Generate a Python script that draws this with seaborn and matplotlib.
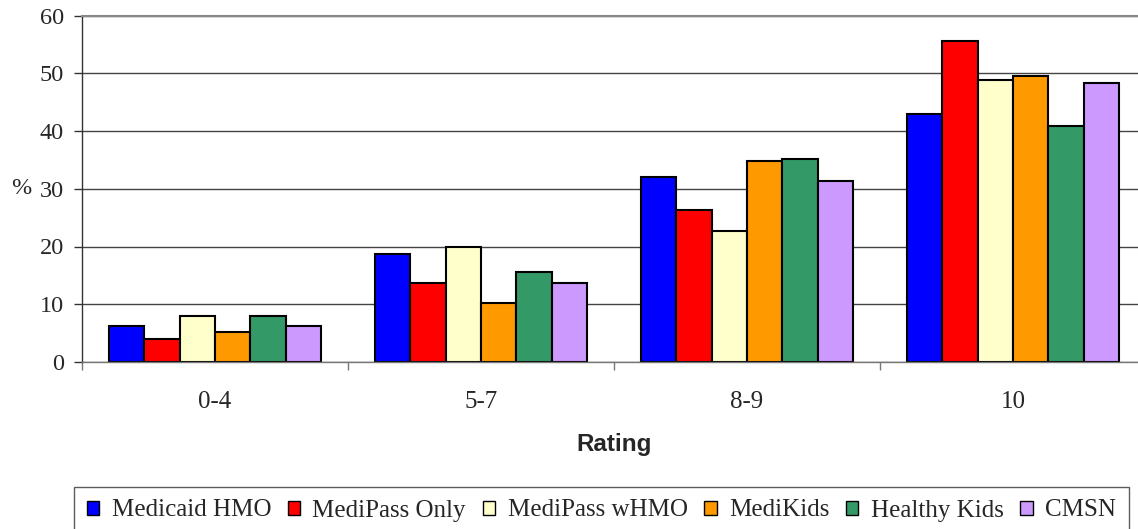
import matplotlib
matplotlib.use("Agg")
import matplotlib.pyplot as plt
import seaborn as sns
import pandas as pd

categories = ["0-4", "5-7", "8-9", "10"]
series = ["Medicaid HMO", "MediPass Only", "MediPass wHMO", "MediKids", "Healthy Kids", "CMSN"]
medicaid_hmo = [6.3, 18.7, 32.1, 42.9]
medipass_only = [3.9, 13.7, 26.4, 55.6]
medipass_whmo = [8.0, 20.0, 22.7, 48.9]
medikids = [5.2, 10.3, 34.8, 49.6]
healthy_kids = [8.0, 15.6, 35.1, 40.9]
cmsn = [6.3, 13.7, 31.4, 48.3]
colors = ["#0000FF", "#FF0000", "#FFFFCC", "#FF9900", "#339966", "#CC99FF"]

values = [medicaid_hmo, medipass_only, medipass_whmo, medikids, healthy_kids, cmsn]
rows = []
for s, vals in zip(series, values):
    for c, v in zip(categories, vals):
        rows.append({"Rating": c, "Plan": s, "Percent": v})
df = pd.DataFrame(rows)

sns.set_style("white")
plt.rcParams["font.family"] = ["Liberation Serif", "DejaVu Serif"]

fig = plt.figure(figsize=(11.38, 5.29), dpi=100)
ax = fig.add_axes([82 / 1138, (529 - 362) / 529, 1064 / 1138, 346.5 / 529])

sns.barplot(data=df, x="Rating", y="Percent", hue="Plan", order=categories,
            hue_order=series, palette=colors, edgecolor="black", linewidth=1.5,
            width=0.8, gap=0, saturation=1, ax=ax, legend=True)

ax.set_xlim(-0.5, 3.5)
ax.set_ylim(0, 60)
ax.set_yticks(range(0, 61, 10))
ax.yaxis.grid(True, color="#444444", linewidth=1.0)
ax.set_axisbelow(True)
ax.spines["right"].set_visible(False)
ax.spines["top"].set_color("#888888")
ax.spines["top"].set_linewidth(1.5)
ax.spines["left"].set_color("#333333")
ax.spines["bottom"].set_color("#777777")
ax.spines["left"].set_linewidth(1.0)
ax.spines["bottom"].set_linewidth(1.0)

ax.tick_params(axis="y", direction="out", length=6, width=1, color="#333333",
               labelsize=17.5, pad=7, left=True)
ax.set_xticks([-0.5, 0.5, 1.5, 2.5, 3.5])
ax.set_xticklabels([])
ax.tick_params(axis="x", which="major", direction="out", length=5.5, width=1,
               color="#777777", bottom=True)
ax.set_xticks(range(len(categories)), minor=True)
ax.set_xticklabels(categories, minor=True)
ax.tick_params(axis="x", which="minor", length=0, labelsize=18, pad=21)

ax.set_xlabel("Rating", fontfamily="Liberation Sans", fontweight="bold",
              fontsize=17.5)
ax.xaxis.set_label_coords(0.5, (362 - 445) / 346.5)
ax.xaxis.label.set_va("center")
ax.set_ylabel("%", rotation=0, fontsize=17.5, va="center")
ax.yaxis.set_label_coords(-0.057, 0.5)

handles, labels = ax.get_legend_handles_labels()
ax.get_legend().remove()
for h in handles:
    h.set_linewidth(1.0)
leg = fig.legend(handles, labels, ncol=6, loc="upper left",
                 bbox_to_anchor=(74 / 1138, 1 - 487 / 529), frameon=True,
                 fancybox=False, fontsize=18, handlelength=0.5, handleheight=0.5,
                 handletextpad=0.5, columnspacing=0.66, borderpad=0.5,
                 borderaxespad=0)
leg.get_frame().set_edgecolor("#333333")
leg.get_frame().set_linewidth(1.0)

fig.savefig("out.png", dpi=100)
